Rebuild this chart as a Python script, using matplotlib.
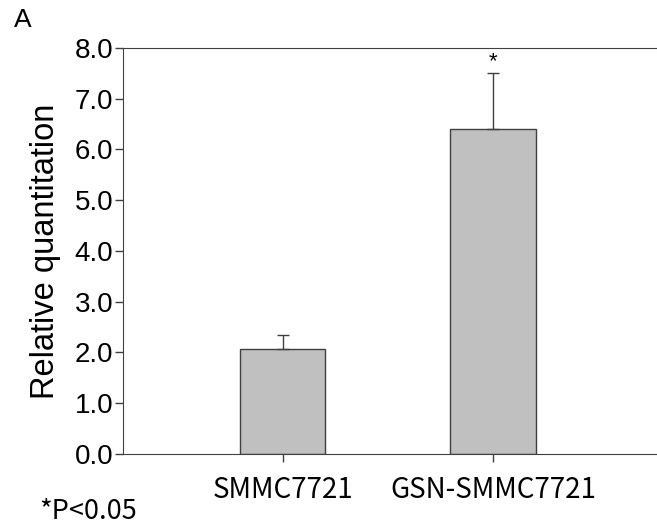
import matplotlib.pyplot as plt

# Datos del grafico
categorias = ['SMMC7721', 'GSN-SMMC7721']
valores = [2.07, 6.40]
errores = [0.27, 1.11]
marcas = ['', '*']
yticks = [0, 1, 2, 3, 4, 5, 6, 7, 8]

fig = plt.figure(figsize=(6.57, 5.26), dpi=100)
ax = fig.add_axes([0.187, 0.137, 0.813, 0.772])

x = list(range(len(categorias)))
ax.bar(x, valores, width=0.405, color='#c0c0c0', edgecolor='#404040', linewidth=1.0,
       yerr=[[0] * len(errores), errores],
       error_kw=dict(ecolor='#404040', elinewidth=1.0, capsize=4, capthick=1.0))

for xi, v, e, m in zip(x, valores, errores, marcas):
    if m:
        ax.text(xi, v + e + 0.02, m, ha='center', va='bottom', fontsize=16,
                family='Liberation Sans')

ax.set_xlim(-0.76, 1.78)
ax.set_ylim(0, 8)
ax.set_yticks(yticks)
ax.set_yticklabels([f'{t:.1f}' for t in yticks], family='Liberation Sans', fontsize=20)
ax.set_xticks(x)
ax.set_xticklabels(categorias, family='Noto Sans CJK JP', fontsize=20)
ax.set_ylabel('Relative quantitation', family='Liberation Sans', fontsize=23.5, labelpad=10)

for lado in ['left', 'top', 'bottom']:
    ax.spines[lado].set_color('#404040')
ax.spines['right'].set_visible(False)
ax.tick_params(axis='both', colors='#404040', labelcolor='black', length=6, width=1.0)
ax.tick_params(axis='y', pad=1)
ax.tick_params(axis='x', pad=9)

fig.text(0.021, 0.962, 'A', fontsize=19, family='Liberation Sans', va='center')
fig.text(0.06, 0.028, '*P<0.05', fontsize=19.5, family='Noto Sans CJK JP', va='center')

fig.savefig('out.png', dpi=100)
